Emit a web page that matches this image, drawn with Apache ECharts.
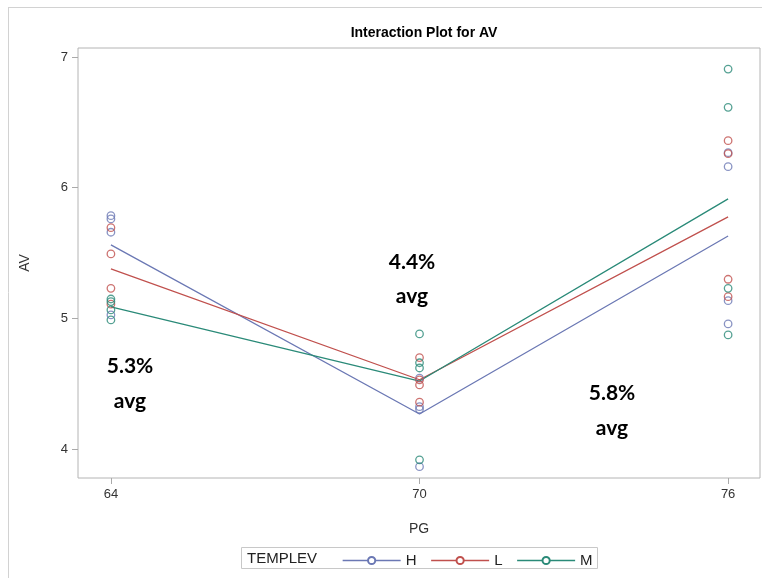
<!DOCTYPE html>
<html>
<head>
<meta charset="utf-8">
<script src="https://cdn.jsdelivr.net/npm/echarts@6/dist/echarts.min.js"></script>
<style>html,body{margin:0;padding:0;background:#fff}#c{width:762px;height:578px}</style>
</head>
<body>
<div id="c"></div>
<script>
// PG levels
const pgLevels = [64, 70, 76];
const groupNames = ['H', 'L', 'M'];
// Individual AV observations per PG level (4 per group)
const hAV = [[5.786, 5.761, 5.659, 5.026], [4.542, 4.324, 4.304, 3.865], [6.268, 6.161, 5.135, 4.957]];
const lAV = [[5.694, 5.493, 5.230, 5.108], [4.700, 4.529, 4.490, 4.358], [6.360, 6.260, 5.299, 5.166]];
const mAV = [[5.148, 5.128, 5.064, 4.988], [4.881, 4.660, 4.620, 3.917], [6.908, 6.615, 5.230, 4.873]];
// Group means
const hMean = [5.562, 4.268, 5.630];
const lMean = [5.378, 4.530, 5.776];
const mMean = [5.087, 4.520, 5.914];
// Annotation texts
const notes = [['5.3%', 'avg'], ['4.4%', 'avg'], ['5.8%', 'avg']];
const xTicks = [64, 70, 76];
const yTicks = [4, 5, 6, 7];

const colors = ['#6b78b4', '#c0504d', '#2a8a78'];
const font = '"Liberation Sans", Arial, sans-serif';

function pts(arr) {
  const out = [];
  arr.forEach((vals, i) => vals.forEach(v => out.push([pgLevels[i], v])));
  return out;
}
const allPts = [hAV, lAV, mAV];
const allMeans = [hMean, lMean, mMean];

const series = [];
groupNames.forEach((g, k) => {
  series.push({
    name: g, type: 'line', showSymbol: false, symbol: 'emptyCircle', silent: true,
    data: allMeans[k].map((v, i) => [pgLevels[i], v]),
    lineStyle: { color: colors[k], width: 1.3 },
    itemStyle: { color: colors[k], borderColor: colors[k], borderWidth: 1.3 },
    z: 2
  });
});
groupNames.forEach((g, k) => {
  series.push({
    name: g + '_pts', type: 'scatter', symbol: 'circle', symbolSize: 7.5,
    data: pts(allPts[k]),
    itemStyle: { color: 'rgba(0,0,0,0)', borderColor: colors[k], borderWidth: 1.3 },
    z: 3
  });
});

const annoPos = [[130, 366, 401], [412, 262, 296], [612, 393, 428]];
const annoFont = 'bold 21px Lato, "Open Sans", sans-serif';
const graphics = [
  { type: 'line', shape: { x1: 8.5, y1: 7, x2: 8.5, y2: 578 }, style: { stroke: '#d2d2d2', lineWidth: 1 } },
  { type: 'line', shape: { x1: 8, y1: 7.5, x2: 762, y2: 7.5 }, style: { stroke: '#d2d2d2', lineWidth: 1 } },
  { type: 'rect', shape: { x: 241.5, y: 547.5, width: 356, height: 21 }, style: { fill: 'none', stroke: '#c8c8c8', lineWidth: 1 } },
  { type: 'text', x: 247, y: 559, style: { text: 'TEMPLEV', font: '15px ' + font, fill: '#222', verticalAlign: 'middle' } }
];
notes.forEach((n, i) => {
  graphics.push({ type: 'text', x: annoPos[i][0], y: annoPos[i][1], style: { text: n[0], font: annoFont, fill: '#000', align: 'center', verticalAlign: 'middle' } });
  graphics.push({ type: 'text', x: annoPos[i][0], y: annoPos[i][2], style: { text: n[1], font: annoFont, fill: '#000', align: 'center', verticalAlign: 'middle' } });
});

const option = {
  animation: false,
  title: {
    text: 'Interaction Plot for AV', left: 419, top: 21, textAlign: 'center',
    textStyle: { fontFamily: font, fontSize: 14, fontWeight: 'bold', color: '#000' }
  },
  grid: { left: 78, top: 48, right: 2, bottom: 100, show: true, borderColor: '#b4b4b4', borderWidth: 1 },
  legend: {
    data: groupNames, left: 342, top: 553, itemWidth: 58, itemHeight: 9, itemGap: 14,
    padding: 0,
    itemStyle: { borderWidth: 1.2 },
    lineStyle: { width: 1.3 },
    textStyle: { fontFamily: font, fontSize: 15, color: '#222' }
  },
  xAxis: {
    type: 'value', min: 63.36, max: 76.62,
    name: 'PG', nameLocation: 'middle', nameGap: 44,
    nameTextStyle: { fontFamily: font, fontSize: 14, color: '#333' },
    axisLine: { show: false },
    splitLine: { show: false },
    axisTick: { show: true, length: 6, customValues: xTicks, lineStyle: { color: '#aaa' } },
    axisLabel: { customValues: xTicks, fontFamily: font, fontSize: 13, color: '#333', margin: 10 }
  },
  yAxis: {
    type: 'value', min: 3.778, max: 7.069,
    name: 'AV', nameLocation: 'middle', nameGap: 46, nameRotate: 90,
    nameTextStyle: { fontFamily: font, fontSize: 14, color: '#333' },
    axisLine: { show: false },
    splitLine: { show: false },
    axisTick: { show: true, length: 6, customValues: yTicks, lineStyle: { color: '#aaa' } },
    axisLabel: { customValues: yTicks, fontFamily: font, fontSize: 13, color: '#333', margin: 10 }
  },
  graphic: graphics,
  series: series
};
const chart = echarts.init(document.getElementById('c'));
chart.setOption(option);
</script>
</body>
</html>
